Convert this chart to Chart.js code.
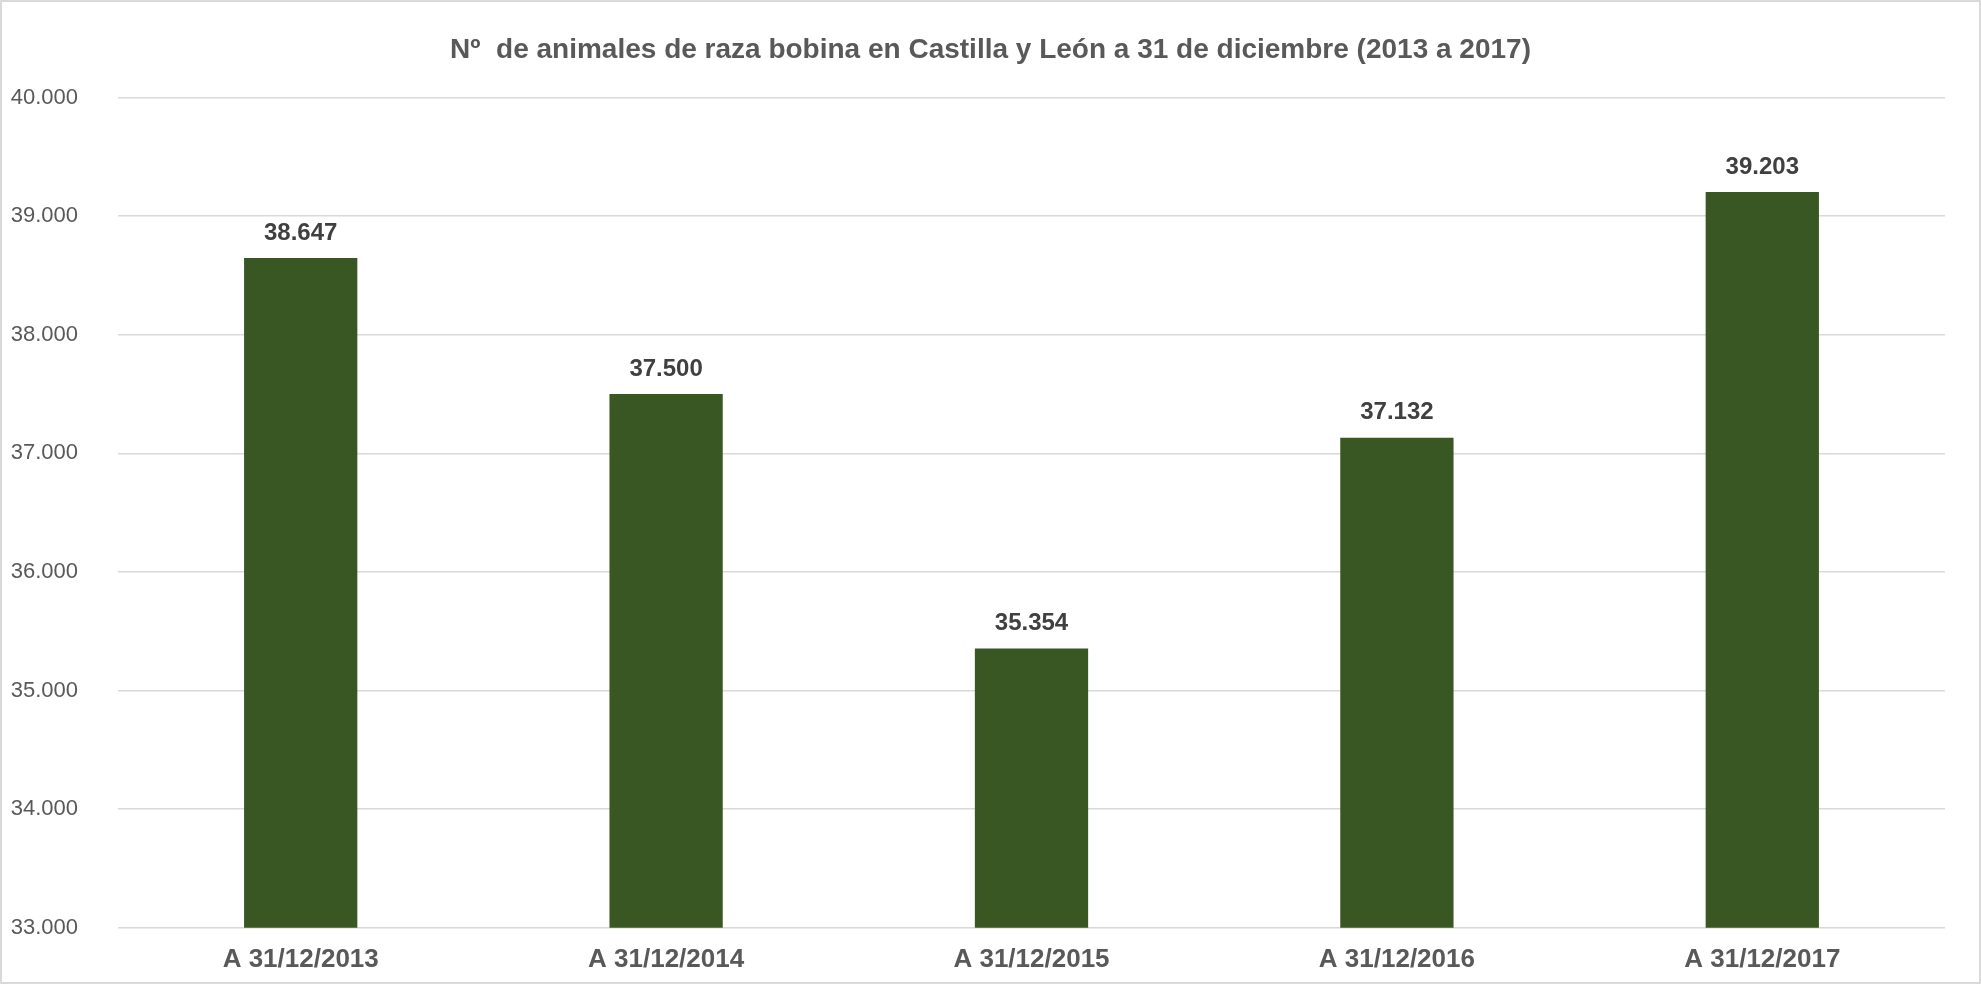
<!DOCTYPE html>
<html lang="es">
<head>
<meta charset="utf-8">
<title>Nº de animales de raza bobina en Castilla y León</title>
<script src="https://cdn.jsdelivr.net/npm/chart.js@4.4.1/dist/chart.umd.min.js"></script>
<style>
    html, body { margin: 0; padding: 0; background: #ffffff; }
    #wrap {
        width: 1981px;
        height: 984px;
        box-sizing: border-box;
        border: 2px solid #d9d9d9;
        position: relative;
    }
</style>
</head>
<body>
<div id="wrap"><canvas id="cattleChart"></canvas></div>
<script>
// Data
const categories = ['A 31/12/2013', 'A 31/12/2014', 'A 31/12/2015', 'A 31/12/2016', 'A 31/12/2017'];
const animals = [38647, 37500, 35354, 37132, 39203];
const yMin = 33000;
const yMax = 40000;
const yStep = 1000;

const titleText = 'Nº  de animales de raza bobina en Castilla y León a 31 de diciembre (2013 a 2017)';
const fontFamily = '"Liberation Sans", Arial, sans-serif';

// thousands with a dot, as in the Spanish original
function fmt(n) {
    return String(Math.round(n)).replace(/\B(?=(\d{3})+(?!\d))/g, '.');
}

// Value labels above each bar
const valueLabels = {
    id: 'valueLabels',
    afterDatasetsDraw(chart) {
        const ctx = chart.ctx;
        const meta = chart.getDatasetMeta(0);
        ctx.save();
        ctx.font = 'bold 24px ' + fontFamily;
        ctx.fillStyle = '#404040';
        ctx.textAlign = 'center';
        ctx.textBaseline = 'middle';
        meta.data.forEach((bar, i) => {
            ctx.fillText(fmt(chart.data.datasets[0].data[i]), bar.x, bar.y - 25);
        });
        ctx.restore();
    }
};

const ctx = document.getElementById('cattleChart').getContext('2d');

new Chart(ctx, {
    type: 'bar',
    data: {
        labels: categories,
        datasets: [{
            label: 'Nº de animales',
            data: animals,
            backgroundColor: '#385723',
            borderWidth: 0,
            categoryPercentage: 1,
            barPercentage: 0.31
        }]
    },
    options: {
        responsive: true,
        maintainAspectRatio: false,
        animation: false,
        layout: {
            // axis fit adds the tick padding twice, pull the spare part off the bottom
            padding: { left: 0, right: 0, top: 0, bottom: -9 }
        },
        plugins: {
            legend: { display: false },
            tooltip: { enabled: false },
            title: {
                display: true,
                text: titleText,
                color: '#595959',
                font: { family: fontFamily, size: 28, weight: 'bold' },
                padding: { top: 31, bottom: 31 }
            }
        },
        scales: {
            x: {
                grid: { display: false, drawTicks: false },
                border: { display: false },
                ticks: {
                    color: '#595959',
                    font: { family: fontFamily, size: 26, weight: 'bold' },
                    padding: 16,
                    maxRotation: 0
                }
            },
            y: {
                min: yMin,
                max: yMax,
                border: { display: false },
                grid: { color: '#d9d9d9', lineWidth: 1.5, drawTicks: false },
                ticks: {
                    stepSize: yStep,
                    color: '#595959',
                    font: { family: fontFamily, size: 22 },
                    padding: 40,
                    callback: v => fmt(v)
                },
                afterFit(scale) { scale.width = 116; }
            },
            // empty right axis, only keeps the right margin so the title stays centred on the page
            yRight: {
                position: 'right',
                min: yMin,
                max: yMax,
                grid: { display: false, drawTicks: false },
                border: { display: false },
                ticks: { display: false },
                afterFit(scale) { scale.width = 34; }
            }
        }
    },
    plugins: [valueLabels]
});
</script>
</body>
</html>
